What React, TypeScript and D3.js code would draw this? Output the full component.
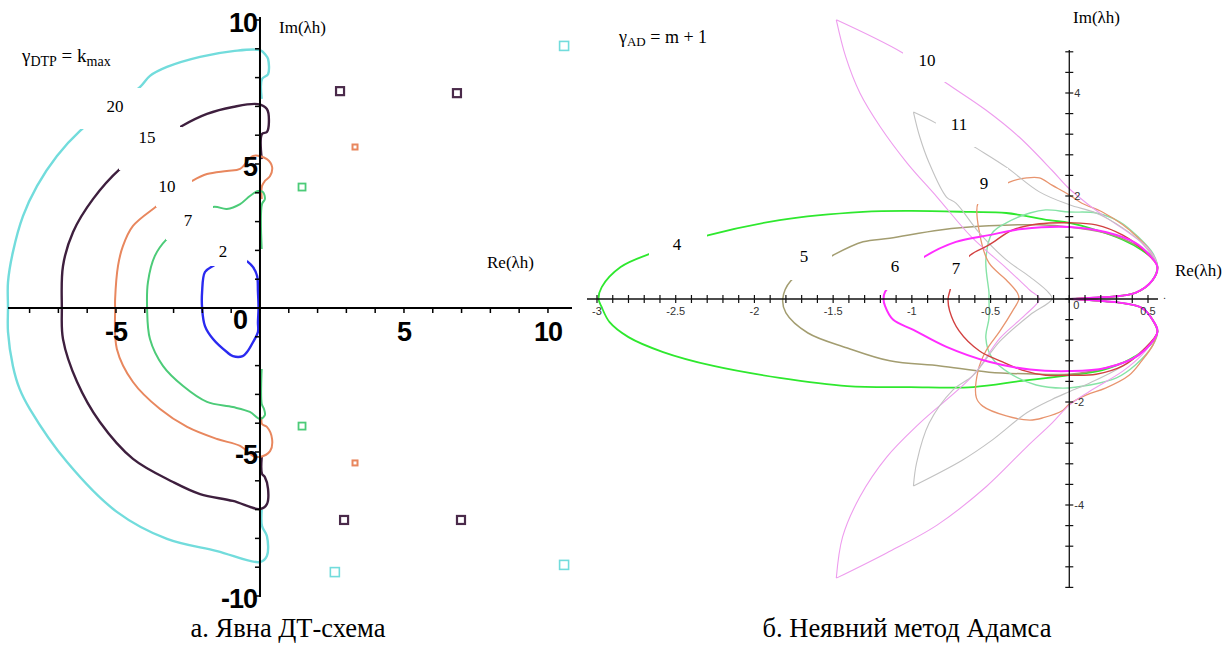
import React from 'react'
import { scaleLinear, line, range, curveCatmullRom } from 'd3'

type Pt = [number, number]

// ---------- panel a: explicit DTP scheme, gamma = kmax ----------
const dtpK20: Pt[] = [
  [0.06, 7.26], [0.07, 7.95], [0.28, 8.12], [0.28, 8.65], [0.2, 8.78], [0, 8.95], [-0.94, 8.92], [-2.08, 8.72],
  [-3.23, 8.37], [-3.82, 8.06], [-4.17, 7.67], [-5.21, 6.98], [-6.25, 6.15], [-7.05, 5.28], [-7.74, 4.24],
  [-8.23, 3.19], [-8.58, 1.94], [-8.75, 0.9], [-8.75, 0], [-8.75, -0.83], [-8.58, -2.01], [-8.35, -2.8],
  [-7.99, -3.51], [-6.7, -5.35], [-4.97, -7.08], [-3.23, -8.02], [-1.49, -8.44], [0, -8.82], [0.24, -8.61],
  [0.24, -7.92], [0.07, -7.57], [0.06, -7.0],
]
const dtpK15: Pt[] = [
  [0.06, 5.17], [0.07, 6.04], [0.24, 6.11], [0.31, 6.46], [0.24, 6.91], [-0.07, 7.08], [-0.94, 6.98],
  [-1.84, 6.74], [-2.71, 6.32], [-3.82, 5.59], [-4.86, 4.83], [-5.8, 3.78], [-6.49, 2.64], [-6.84, 1.46],
  [-6.88, 0], [-6.84, -1.08], [-6.35, -2.57], [-5.56, -3.96], [-4.41, -5.24], [-3.02, -6.04], [-2.08, -6.46],
  [-0.94, -6.7], [0, -6.98], [0.24, -6.81], [0.28, -6.28], [0.17, -5.87], [0.07, -5.76], [0.06, -5.17],
]
const dtpK10: Pt[] = [
  [0.06, 3.78], [0.07, 4.24], [0.17, 4.41], [0.35, 4.58], [0.42, 4.9], [0.24, 5.17], [-0.24, 5.28],
  [-0.69, 4.83], [-1.15, 4.76], [-1.84, 4.65], [-2.36, 4.41], [-2.95, 4.03], [-3.58, 3.54], [-4.41, 2.85],
  [-4.76, 2.15], [-4.93, 1.46], [-5.03, 0.31], [-5.03, 0], [-4.97, -1.42], [-4.41, -2.57], [-3.47, -3.51],
  [-2.53, -4.13], [-1.49, -4.55], [-0.69, -4.79], [-0.24, -5.14], [0, -5.17], [0.35, -4.97], [0.42, -4.55],
  [0.24, -4.13], [0.07, -4.03], [0.06, -3.78],
]
const dtpK7: Pt[] = [
  [0.06, 2.05], [0.07, 3.61], [0.17, 3.78], [0.1, 4.03], [-0.07, 4.06], [-0.35, 3.89], [-0.69, 3.61],
  [-1.15, 3.44], [-1.63, 3.51], [-2.43, 3.02], [-3.23, 2.4], [-3.65, 1.81], [-3.89, 0.9], [-3.92, 0],
  [-3.82, -1.08], [-3.37, -2.01], [-2.67, -2.71], [-1.84, -3.26], [-0.94, -3.44], [-0.35, -3.61], [0, -3.85],
  [0.17, -3.72], [0.14, -3.51], [0.06, -3.33], [0.06, -2.12],
]
const dtpK2: Pt[] = [
  [-0.45, 1.63], [-0.24, 1.42], [-0.1, 1.11], [-0.07, 0.56], [-0.05, 0], [-0.07, -0.49], [-0.07, -0.83],
  [-0.24, -1.18], [-0.45, -1.53], [-0.6, -1.67], [-0.94, -1.67], [-1.15, -1.53], [-1.63, -1.08],
  [-1.91, -0.63], [-2.01, 0], [-2.01, 0.56], [-1.91, 1.25], [-1.63, 1.46], [-1.0, 1.75], [-0.45, 1.63],
]
const dtpPoints20: Pt[] = [[10.56, 9.1], [10.56, -8.92], [2.6, -9.17]]
const dtpPoints15: Pt[] = [[2.78, 7.53], [6.84, 7.46], [2.92, -7.36], [6.98, -7.36]]
const dtpPoints10: Pt[] = [[3.3, 5.59], [3.3, -5.38]]
const dtpPoints7: Pt[] = [[1.46, 4.2], [1.46, -4.1]]
const dtpLabels = ['20', '15', '10', '7', '2']
const leftXTicks = [-5, 0, 5, 10]
const leftYTicks = [10, 5, -5, -10]

// ---------- panel b: implicit Adams method, gamma = m + 1 ----------
const nearOriginUp: Pt[] = [[0, 0], [0.13, 0.02], [0.42, 0.12], [0.53, 0.37], [0.56, 0.62]]
const nearOriginDown: Pt[] = [[0.56, -0.64], [0.53, -0.41], [0.46, -0.17], [0.13, -0.02], [0, 0]]

const adamsM4: Pt[] = [
  [0.55, 0.72], [0.46, 0.95], [0.34, 1.15], [0.17, 1.34], [0, 1.48], [-0.13, 1.53], [-0.4, 1.67],
  [-0.63, 1.69], [-1.01, 1.71], [-1.31, 1.69], [-1.84, 1.53], [-2.29, 1.24], [-2.67, 0.87], [-2.85, 0.62],
  [-2.97, 0.23], [-2.99, 0], [-2.97, -0.16], [-2.92, -0.45], [-2.8, -0.74], [-2.58, -1.03], [-2.26, -1.3],
  [-1.84, -1.53], [-1.41, -1.69], [-1.01, -1.71], [-0.61, -1.71], [-0.3, -1.59], [0, -1.48], [0.21, -1.38],
  [0.38, -1.18], [0.51, -0.9],
]
const adamsM5: Pt[] = [
  [0.54, 0.78], [0.42, 1.05], [0.23, 1.28], [0, 1.4], [-0.19, 1.44], [-0.51, 1.42], [-0.82, 1.34],
  [-1.14, 1.18], [-1.31, 1.11], [-1.5, 0.85], [-1.77, 0.35], [-1.82, 0], [-1.8, -0.27], [-1.66, -0.66],
  [-1.41, -0.95], [-1.14, -1.2], [-0.82, -1.3], [-0.51, -1.42], [-0.19, -1.46], [0, -1.46], [0.23, -1.34],
  [0.44, -1.09],
]
const adamsM6: Pt[] = [
  [0.51, 0.85], [0.42, 1.09], [0.23, 1.3], [0, 1.4], [-0.3, 1.36], [-0.51, 1.24], [-0.72, 1.11],
  [-0.92, 0.82], [-1.05, 0.5], [-1.17, 0.14], [-1.18, 0], [-1.17, -0.14], [-1.12, -0.4], [-0.99, -0.6],
  [-0.78, -0.93], [-0.51, -1.22], [-0.25, -1.37], [0, -1.4], [0.23, -1.34], [0.44, -1.09],
]
const adamsM7: Pt[] = [
  [0.47, 0.95], [0.34, 1.24], [0.17, 1.44], [0, 1.48], [-0.19, 1.46], [-0.36, 1.34], [-0.51, 1.05],
  [-0.63, 0.85], [-0.72, 0.5], [-0.76, 0.14], [-0.77, 0], [-0.76, -0.23], [-0.7, -0.62], [-0.57, -1.01],
  [-0.44, -1.2], [-0.3, -1.38], [-0.15, -1.48], [0, -1.48], [0.17, -1.46], [0.34, -1.3], [0.47, -0.99],
]
const adamsM8: Pt[] = [
  [0.53, 0.89], [0.44, 1.2], [0.32, 1.5], [0.17, 1.67], [0, 1.69], [-0.15, 1.73], [-0.25, 1.67],
  [-0.4, 1.48], [-0.49, 1.28], [-0.53, 0.76], [-0.51, 0.12], [-0.51, 0], [-0.51, -0.37], [-0.53, -0.76],
  [-0.49, -1.15], [-0.38, -1.44], [-0.21, -1.67], [-0.04, -1.73], [0.13, -1.67], [0.3, -1.53],
  [0.42, -1.28], [0.53, -0.9],
]
const adamsM9: Pt[] = [
  [0.51, 0.95], [0.44, 1.18], [0.34, 1.44], [0.21, 1.69], [0.08, 1.86], [0, 2.02], [-0.11, 2.21],
  [-0.19, 2.35], [-0.27, 2.35], [-0.38, 2.27], [-0.5, 2.05], [-0.58, 1.86], [-0.57, 1.28], [-0.51, 0.7],
  [-0.4, 0.37], [-0.33, 0.12], [-0.32, 0], [-0.36, -0.23], [-0.44, -0.62], [-0.53, -1.01], [-0.58, -1.4],
  [-0.59, -1.92], [-0.55, -2.08], [-0.4, -2.27], [-0.25, -2.35], [-0.17, -2.31], [-0.04, -2.16],
  [0, -2.04], [0.11, -1.86], [0.23, -1.73], [0.38, -1.48], [0.46, -1.2], [0.53, -0.9],
]
const adamsM10: Pt[] = [
  [0.51, 0.95], [0.38, 1.28], [0.23, 1.59], [0.11, 1.86], [-0.01, 2.17], [-0.11, 2.5], [-0.32, 3.15],
  [-0.53, 3.67], [-0.78, 4.19], [-1.06, 4.78], [-1.48, 5.42], [-1.42, 4.7], [-1.33, 4.0], [-1.2, 3.34],
  [-1.03, 2.64], [-0.84, 1.98], [-0.62, 1.2], [-0.4, 0.6], [-0.25, 0.17], [-0.19, 0], [-0.28, -0.31],
  [-0.44, -0.76], [-0.61, -1.48], [-0.95, -2.41], [-1.16, -3.07], [-1.33, -3.84], [-1.44, -4.62],
  [-1.48, -5.42], [-1.16, -4.93], [-0.84, -4.39], [-0.53, -3.65], [-0.27, -2.87], [-0.11, -2.41],
  [0, -2.06], [0.13, -1.79], [0.34, -1.4], [0.46, -1.09], [0.53, -0.82],
]
const adamsM11: Pt[] = [
  [0.46, 1.09], [0.34, 1.38], [0.17, 1.67], [0, 1.83], [-0.19, 2.08], [-0.4, 2.56], [-0.59, 2.93],
  [-0.85, 3.42], [-0.99, 3.63], [-0.95, 3.15], [-0.89, 2.64], [-0.78, 1.98], [-0.72, 1.86], [-0.57, 1.28],
  [-0.4, 0.76], [-0.25, 0.43], [-0.13, 0.12], [-0.11, 0], [-0.25, -0.31], [-0.44, -0.82], [-0.61, -1.48],
  [-0.74, -1.77], [-0.89, -2.41], [-0.97, -3.18], [-0.99, -3.63], [-0.68, -3.13], [-0.49, -2.74],
  [-0.27, -2.21], [-0.11, -1.95], [0, -1.8], [0.13, -1.63], [0.34, -1.3], [0.46, -1.01],
]
const adamsLabels = ['4', '5', '6', '7', '9', '10', '11']
const rightXTicks = [-3, -2.5, -2, -1.5, -1, -0.5, 0.5]
const rightYTicks = [4, 2, -2, -4]

const closeAdams = (body: Pt[]): Pt[] => [...nearOriginUp, ...body, ...nearOriginDown]

// scales
const lx = scaleLinear().domain([-8.75, 10.8]).range([8, 571])
const ly = scaleLinear().domain([10, -10]).range([20, 596])
const rx = scaleLinear().domain([-3, 0.5]).range([597, 1148])
const ry = scaleLinear().domain([4, -4]).range([93, 505])

const smooth = line<Pt>().curve(curveCatmullRom.alpha(0.5))

// split a projected polyline at sharp turns (cusps) so smoothing keeps them pointed
function cuspPaths(px: Pt[]): string {
  const parts: Pt[][] = [[px[0]]]
  for (let i = 1; i < px.length; i++) {
    parts[parts.length - 1].push(px[i])
    if (i < px.length - 1) {
      const ax = px[i][0] - px[i - 1][0], ay = px[i][1] - px[i - 1][1]
      const bx = px[i + 1][0] - px[i][0], by = px[i + 1][1] - px[i][1]
      const c = (ax * bx + ay * by) / (Math.hypot(ax, ay) * Math.hypot(bx, by) || 1)
      if (c < -0.3) parts.push([px[i]])
    }
  }
  return parts.map(p => smooth(p) || '').join(' ')
}
const leftPath = (pts: Pt[]) => cuspPaths(pts.map(d => [lx(d[0]), ly(d[1])] as Pt))
const rightPath = (pts: Pt[]) => cuspPaths(pts.map(d => [rx(d[0]), ry(d[1])] as Pt))

const leftCurves = [
  { pts: dtpK20, color: '#72dcdc', w: 2.4 },
  { pts: dtpK15, color: '#3e1f3e', w: 2.4 },
  { pts: dtpK10, color: '#e8875e', w: 2 },
  { pts: dtpK7, color: '#4ccb78', w: 2 },
  { pts: dtpK2, color: '#2a2af0', w: 2.4 },
]
const leftMarks = [
  { pts: dtpPoints20, color: '#72dcdc', s: 9, w: 1.6 },
  { pts: dtpPoints15, color: '#4a2a4a', s: 8, w: 2.2 },
  { pts: dtpPoints10, color: '#e8875e', s: 5, w: 2 },
  { pts: dtpPoints7, color: '#4ccb78', s: 7, w: 1.8 },
]
const leftBoxes = [
  { x: 78, y: 88, w: 102, h: 41 },
  { x: 119, y: 127, w: 63, h: 43 },
  { x: 156, y: 168, w: 36, h: 39 },
  { x: 166, y: 206, w: 47, h: 34 },
  { x: 206, y: 239, w: 41, h: 27 },
]
const leftLabelPos = [[115, 106], [147, 137], [167, 186], [188, 220], [223, 251]]

const rightCurves = [
  { pts: closeAdams(adamsM4), color: '#2ee82e', w: 1.8 },
  { pts: closeAdams(adamsM5), color: '#a39d70', w: 1.5 },
  { pts: closeAdams(adamsM8), color: '#86e3a6', w: 1.4 },
  { pts: closeAdams(adamsM9), color: '#e8946e', w: 1.3 },
  { pts: closeAdams(adamsM10), color: '#ee9cee', w: 1.1 },
  { pts: closeAdams(adamsM11), color: '#c2c2c2', w: 1.1 },
  { pts: closeAdams(adamsM7), color: '#d24040', w: 1.4 },
  { pts: closeAdams(adamsM6), color: '#ff2cff', w: 2 },
]
const rightBoxes = [
  { x: 649, y: 226, w: 58, h: 36 },
  { x: 790, y: 238, w: 42, h: 42 },
  { x: 884, y: 246, w: 40, h: 44 },
  { x: 940, y: 252, w: 29, h: 37 },
  { x: 972, y: 168, w: 36, h: 36 },
  { x: 903, y: 40, w: 43, h: 42 },
  { x: 936, y: 108, w: 40, h: 39 },
]
const rightLabelPos = [[677, 244], [804, 256], [895, 266], [956, 268], [984, 183], [927, 60], [959, 124]]

const serif = '"Liberation Serif", "Times New Roman", serif'
const sans = '"Liberation Sans", Arial, sans-serif'

function LeftPanel() {
  const x0 = lx(0)
  const y0 = ly(0)
  return (
    <g>
      {leftCurves.map((c, i) => (
        <path key={i} d={leftPath(c.pts)} fill="none" stroke={c.color} strokeWidth={c.w} strokeLinejoin="round" />
      ))}
      {leftMarks.map((m, i) =>
        m.pts.map((p, j) => (
          <rect key={i + '-' + j} x={lx(p[0]) - m.s / 2} y={ly(p[1]) - m.s / 2} width={m.s} height={m.s}
            fill="none" stroke={m.color} strokeWidth={m.w} />
        ))
      )}
      {leftBoxes.map((b, i) => <rect key={i} x={b.x} y={b.y} width={b.w} height={b.h} fill="#fff" />)}
      {dtpLabels.map((t, i) => (
        <text key={t} x={leftLabelPos[i][0]} y={leftLabelPos[i][1]} fontFamily={serif} fontSize={17}
          textAnchor="middle" dominantBaseline="central">{t}</text>
      ))}
      {/* axes */}
      <line x1={8} x2={572} y1={y0} y2={y0} stroke="#000" strokeWidth={2} />
      <line x1={x0} x2={x0} y1={17} y2={597} stroke="#000" strokeWidth={2} />
      {range(-8, 11).map(v => (
        <line key={'xt' + v} x1={lx(v)} x2={lx(v)} y1={y0} y2={y0 + 5} stroke="#000" strokeWidth={1.5} />
      ))}
      {range(-10, 11).map(v => (
        <line key={'yt' + v} x1={x0 - 5} x2={x0} y1={ly(v)} y2={ly(v)} stroke="#000" strokeWidth={1.5} />
      ))}
      {leftXTicks.map(v => (
        <text key={'xl' + v} x={v === 0 ? x0 - 13 : lx(v)} y={v === 0 ? y0 + 12 : y0 + 24}
          fontFamily={sans} fontWeight="bold" fontSize={27} textAnchor={v === 0 ? 'end' : 'middle'}
          dominantBaseline="central" letterSpacing={-1}>{v}</text>
      ))}
      {leftYTicks.map(v => (
        <text key={'yl' + v} x={x0 - 3} y={ly(v) + 3} fontFamily={sans} fontWeight="bold" fontSize={27}
          textAnchor="end" dominantBaseline="central" letterSpacing={-1}>{v}</text>
      ))}
      <text x={22} y={62} fontFamily={serif} fontSize={19}>
        γ<tspan fontSize={14} dy={4}>DTP</tspan><tspan dy={-4}> = k</tspan><tspan fontSize={14} dy={4}>max</tspan>
      </text>
      <text x={279} y={33} fontFamily={serif} fontSize={17}>Im(λh)</text>
      <text x={487} y={268} fontFamily={serif} fontSize={17}>Re(λh)</text>
      <text x={288} y={637} fontFamily={serif} fontSize={26.5} textAnchor="middle">а. Явна ДТ-схема</text>
    </g>
  )
}

function RightPanel() {
  const x0 = rx(0)
  const y0 = ry(0)
  return (
    <g>
      {rightCurves.map((c, i) => (
        <path key={i} d={rightPath(c.pts)} fill="none" stroke={c.color} strokeWidth={c.w} strokeLinejoin="round" />
      ))}
      {rightBoxes.map((b, i) => <rect key={i} x={b.x} y={b.y} width={b.w} height={b.h} fill="#fff" />)}
      {adamsLabels.map((t, i) => (
        <text key={t} x={rightLabelPos[i][0]} y={rightLabelPos[i][1]} fontFamily={serif} fontSize={17}
          textAnchor="middle" dominantBaseline="central">{t}</text>
      ))}
      {/* axes */}
      <line x1={587} x2={1158} y1={y0} y2={y0} stroke="#111" strokeWidth={1.3} />
      <line x1={x0} x2={x0} y1={50} y2={588} stroke="#111" strokeWidth={1.3} />
      {range(-30, 6).map(i => (
        <line key={'xt' + i} x1={rx(i / 10)} x2={rx(i / 10)} y1={y0 - 4} y2={y0 + 4} stroke="#111" strokeWidth={1.2} />
      ))}
      {range(-14, 13).map(i => (
        <line key={'yt' + i} x1={x0 - 4} x2={x0 + 4} y1={ry(i * 0.4)} y2={ry(i * 0.4)} stroke="#111" strokeWidth={1.2} />
      ))}
      {rightXTicks.map(v => (
        <text key={'xl' + v} x={rx(v)} y={y0 + 12} fontFamily={sans} fontSize={11} fill="#333"
          textAnchor="middle" dominantBaseline="central">{v}</text>
      ))}
      <text x={x0 + 4} y={y0 + 6} fontFamily={sans} fontSize={11} fill="#333" dominantBaseline="central">0</text>
      <text x={1163} y={y0} fontFamily={sans} fontSize={11} fill="#333">.</text>
      {rightYTicks.map(v => (
        <text key={'yl' + v} x={x0 + 5} y={ry(v)} fontFamily={sans} fontSize={11} fill="#333"
          dominantBaseline="central">{v}</text>
      ))}
      <text x={619} y={43} fontFamily={serif} fontSize={18}>
        γ<tspan fontSize={13} dy={3}>AD</tspan><tspan dy={-3}> = m + 1</tspan>
      </text>
      <text x={1073} y={23} fontFamily={serif} fontSize={17}>Im(λh)</text>
      <text x={1175} y={276} fontFamily={serif} fontSize={17}>Re(λh)</text>
      <text x={907} y={637} fontFamily={serif} fontSize={26.5} textAnchor="middle">б. Неявний метод Адамса</text>
    </g>
  )
}

export default function App() {
  return (
    <svg width={1228} height={646} style={{ position: 'absolute', left: 0, top: 0, background: '#fff' }}>
      <rect width={1228} height={646} fill="#fff" />
      <LeftPanel />
      <RightPanel />
    </svg>
  )
}
